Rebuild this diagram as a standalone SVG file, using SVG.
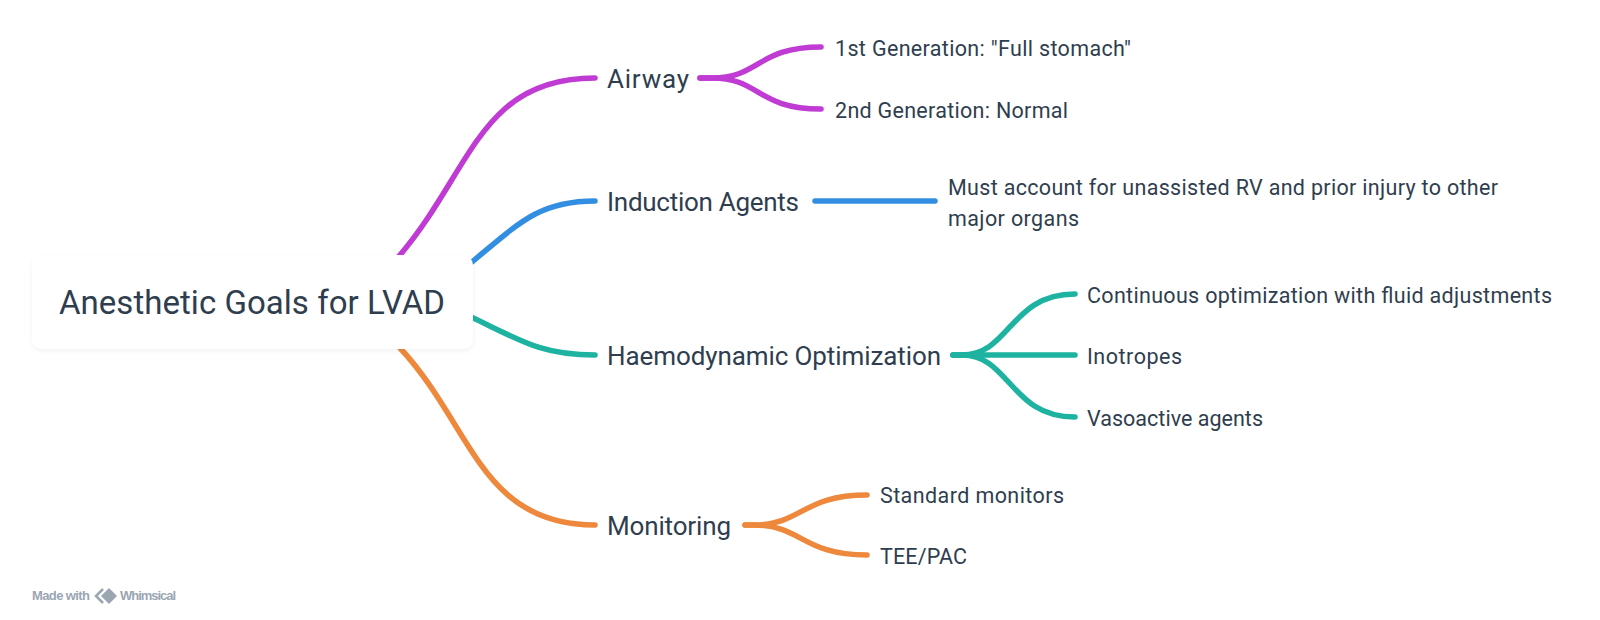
<svg xmlns="http://www.w3.org/2000/svg" width="1600" height="620" viewBox="0 0 1600 620">
<style>
text{font-family:"Roboto","Liberation Sans",sans-serif;fill:#2f3e4f}
.r{font-size:33px}
.m{font-size:26px}
.l{font-size:21.5px}
.c{fill:none;stroke-width:5.5;stroke-linecap:round}
.wm{font-family:"Liberation Sans",sans-serif;font-size:13px;font-weight:bold;fill:#9aa6b2}
</style>
<defs><filter id="s" x="-5%" y="-10%" width="110%" height="125%"><feDropShadow dx="0" dy="2" stdDeviation="2.5" flood-color="#000" flood-opacity="0.05"/></filter></defs>
<g id="connectors">
<path class="c" stroke="#c03ad4" d="M393 263L400 255C472 170 480 78 595 78"/>
<path class="c" stroke="#c03ad4" d="M700 78H712C760 78 757 47 821 47"/>
<path class="c" stroke="#c03ad4" d="M700 78H712C760 78 757 109 821 109"/>
<path class="c" stroke="#318ee0" d="M465 268L472 262C520 222 540 201 595 201"/>
<path class="c" stroke="#318ee0" d="M815 201H935"/>
<path class="c" stroke="#1eb3a0" d="M465 314C520 340 540 355 595 355"/>
<path class="c" stroke="#1eb3a0" d="M953 355H962C1010 355 1010 294 1075 294"/>
<path class="c" stroke="#1eb3a0" d="M953 355H1075"/>
<path class="c" stroke="#1eb3a0" d="M953 355H962C1010 355 1010 417 1075 417"/>
<path class="c" stroke="#ee883c" d="M393 340L400 348C472 425 480 525 595 525"/>
<path class="c" stroke="#ee883c" d="M745 525H754C802 525 802 495 867 495"/>
<path class="c" stroke="#ee883c" d="M745 525H754C802 525 802 555 867 555"/>
</g>
<g id="root"><rect x="32" y="255" width="441" height="94" rx="10" fill="#fff" filter="url(#s)"/>
<text class="r" x="59" y="314" textLength="386" lengthAdjust="spacing">Anesthetic Goals for LVAD</text></g>
<g id="airway"><text class="m" x="607" y="88" textLength="82" lengthAdjust="spacing">Airway</text></g>
<g id="gen1"><text class="l" x="835" y="56" textLength="296" lengthAdjust="spacing">1st Generation: "Full stomach"</text></g>
<g id="gen2"><text class="l" x="835" y="118" textLength="233" lengthAdjust="spacing">2nd Generation: Normal</text></g>
<g id="induction"><text class="m" x="607" y="211" textLength="192" lengthAdjust="spacing">Induction Agents</text></g>
<g id="must"><text class="l" x="948" y="195" textLength="550" lengthAdjust="spacing">Must account for unassisted RV and prior injury to other</text>
<text class="l" x="948" y="226" textLength="131" lengthAdjust="spacing">major organs</text></g>
<g id="haemo"><text class="m" x="607" y="365" textLength="334" lengthAdjust="spacing">Haemodynamic Optimization</text></g>
<g id="fluid"><text class="l" x="1087" y="303" textLength="465" lengthAdjust="spacing">Continuous optimization with fluid adjustments</text></g>
<g id="inotropes"><text class="l" x="1087" y="364" textLength="95" lengthAdjust="spacing">Inotropes</text></g>
<g id="vaso"><text class="l" x="1087" y="426" textLength="176" lengthAdjust="spacing">Vasoactive agents</text></g>
<g id="monitoring"><text class="m" x="607" y="535" textLength="124" lengthAdjust="spacing">Monitoring</text></g>
<g id="standard"><text class="l" x="880" y="503" textLength="184" lengthAdjust="spacing">Standard monitors</text></g>
<g id="tee"><text class="l" x="880" y="564" textLength="87" lengthAdjust="spacing">TEE/PAC</text></g>
<g id="watermark"><text class="wm" x="32" y="600" textLength="58" lengthAdjust="spacing">Made with</text>
<path d="M103 589L96 596L103 603" fill="none" stroke="#9aa6b2" stroke-width="2.5"/>
<path d="M109 588L117 596L109 604L101 596Z" fill="#9aa6b2"/>
<text class="wm" x="120" y="600" textLength="56" lengthAdjust="spacing">Whimsical</text></g>
</svg>
